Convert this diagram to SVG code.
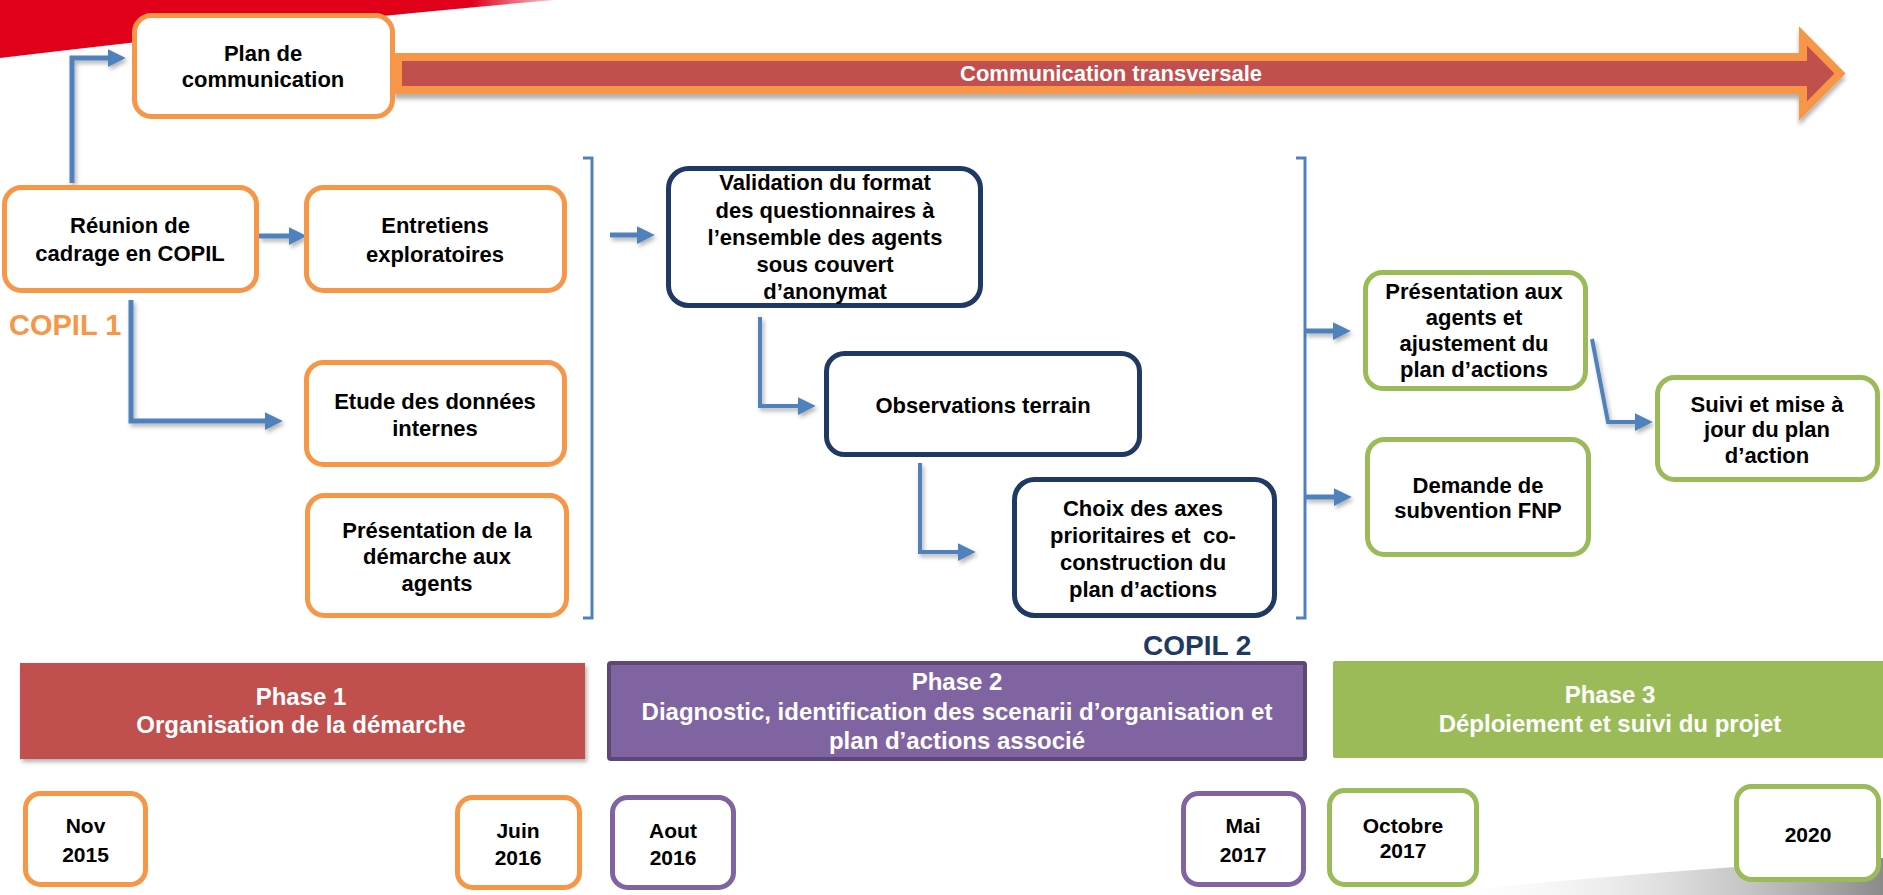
<svg xmlns="http://www.w3.org/2000/svg" width="1883" height="895" viewBox="0 0 1883 895">
<defs>
<style>
text{font-family:"Liberation Sans",Arial,sans-serif;font-weight:bold;}
.t{font-size:22px;fill:#000;text-anchor:middle;}
.d{font-size:21px;fill:#000;text-anchor:middle;}
.p{font-size:24px;fill:#fff;text-anchor:middle;}
.box{fill:#fff;stroke-width:5;}
.or{stroke:#F79646;}
.nv{stroke:#1F3864;}
.gr{stroke:#9BBB59;}
.pu{stroke:#8064A2;}
.con{fill:none;stroke:#4F81BD;stroke-width:5;marker-end:url(#ah);filter:url(#sh);}
.br{fill:none;stroke:#4F81BD;stroke-width:3;}
</style>
<marker id="ah" markerUnits="userSpaceOnUse" markerWidth="18" markerHeight="18" viewBox="0 0 16 16" refX="2" refY="8" orient="auto">
<path d="M0,0 L16,8 L0,16 Z" fill="#4F81BD"/>
</marker>
<filter id="sh" filterUnits="userSpaceOnUse" x="0" y="0" width="1883" height="895">
<feDropShadow dx="2" dy="3" stdDeviation="2" flood-color="#000" flood-opacity="0.3"/>
</filter>
<filter id="sh2" filterUnits="userSpaceOnUse" x="0" y="0" width="1883" height="895">
<feDropShadow dx="0" dy="5" stdDeviation="2" flood-color="#000" flood-opacity="0.3"/>
</filter>
<linearGradient id="gsw" x1="0" y1="0" x2="1" y2="0">
<stop offset="0" stop-color="#ffffff" stop-opacity="0"/>
<stop offset="1" stop-color="#8a8a8a"/>
</linearGradient>
<linearGradient id="rsw" x1="0" y1="0" x2="1" y2="0">
<stop offset="0" stop-color="#E1001A"/>
<stop offset="0.85" stop-color="#E1001A"/>
<stop offset="1" stop-color="#E1001A" stop-opacity="0.2"/>
</linearGradient>
</defs>
<rect width="1883" height="895" fill="#fff"/>
<g id="decor">
<path d="M0,0 H555 Q320,20 0,58 Z" fill="url(#rsw)"/>
<path d="M1420,895 Q1650,870 1883,858 V895 Z" fill="url(#gsw)"/>
</g>
<g id="band">
<path d="M398,57 H1803 V36 L1840,73.5 L1803,111 V90 H398 Z" fill="#C0504D" stroke="#F79646" stroke-width="8" filter="url(#sh2)"/>
<text x="1111" y="81" font-size="22" fill="#fff" text-anchor="middle">Communication transversale</text>
</g>
<g id="brackets">
<path class="br" d="M583,158 H592 V618 H583"/>
<path class="br" d="M1296,158 H1305 V618 H1296"/>
</g>
<g id="connectors">
<path class="con" d="M72,183 V58 H110"/>
<path class="con" d="M259,236 H291"/>
<path class="con" d="M131,300 V421 H267"/>
<path class="con" d="M610,235 H639"/>
<path class="con" style="stroke-width:4" d="M760,317 V406 H800"/>
<path class="con" style="stroke-width:4" d="M920,463 V552 H960"/>
<path class="con" d="M1305,331 H1335"/>
<path class="con" d="M1305,497 H1336"/>
<path class="con" style="stroke-width:4" d="M1592,339 L1608,422 H1637"/>
</g>
<g id="plan"><rect class="box or" x="134.5" y="15.5" width="258" height="101" rx="17"/>
<text class="t" x="263" y="61">Plan de</text><text class="t" x="263" y="87">communication</text></g>
<g id="reunion"><rect class="box or" x="4.5" y="187.5" width="252" height="103" rx="17"/>
<text class="t" x="130" y="233">Réunion de</text><text class="t" x="130" y="261">cadrage en COPIL</text></g>
<g id="entretiens"><rect class="box or" x="306.5" y="187.5" width="258" height="103" rx="17"/>
<text class="t" x="435" y="233">Entretiens</text><text class="t" x="435" y="262">exploratoires</text></g>
<g id="etude"><rect class="box or" x="306.5" y="362.5" width="258" height="102" rx="17"/>
<text class="t" x="435" y="409">Etude des données</text><text class="t" x="435" y="436">internes</text></g>
<g id="presentation-demarche"><rect class="box or" x="307.5" y="495.5" width="259" height="120" rx="17"/>
<text class="t" x="437" y="538">Présentation de la</text><text class="t" x="437" y="564">démarche aux</text><text class="t" x="437" y="591">agents</text></g>
<g id="copil1"><text x="9" y="335" font-size="29" fill="#F79646">COPIL 1</text></g>
<g id="validation"><rect class="box nv" x="668.5" y="168.5" width="312" height="137" rx="20"/>
<text class="t" x="825" y="190">Validation du format</text><text class="t" x="825" y="218">des questionnaires à</text><text class="t" x="825" y="245">l’ensemble des agents</text><text class="t" x="825" y="272">sous couvert</text><text class="t" x="825" y="299">d’anonymat</text></g>
<g id="observations"><rect class="box nv" x="826.5" y="353.5" width="313" height="101" rx="18"/>
<text class="t" x="983" y="413">Observations terrain</text></g>
<g id="choix"><rect class="box nv" x="1014.5" y="479.5" width="260" height="136" rx="20"/>
<text class="t" x="1143" y="516">Choix des axes</text><text class="t" x="1143" y="543" style="white-space:pre">prioritaires et  co-</text><text class="t" x="1143" y="570">construction du</text><text class="t" x="1143" y="597">plan d’actions</text></g>
<g id="copil2"><text x="1143" y="655" font-size="28" fill="#1F3864">COPIL 2</text></g>
<g id="presentation-agents"><rect class="box gr" x="1365.5" y="272.5" width="220" height="116" rx="17"/>
<text class="t" x="1474" y="299">Présentation aux</text><text class="t" x="1474" y="325">agents et</text><text class="t" x="1474" y="351">ajustement du</text><text class="t" x="1474" y="377">plan d’actions</text></g>
<g id="demande"><rect class="box gr" x="1367.5" y="439.5" width="221" height="115" rx="17"/>
<text class="t" x="1478" y="493">Demande de</text><text class="t" x="1478" y="518">subvention FNP</text></g>
<g id="suivi"><rect class="box gr" x="1657.5" y="377.5" width="220" height="102" rx="17"/>
<text class="t" x="1767" y="412">Suivi et mise à</text><text class="t" x="1767" y="437">jour du plan</text><text class="t" x="1767" y="463">d’action</text></g>
<g id="phase1"><rect x="20" y="663" width="565" height="96" fill="#C0504D" filter="url(#sh)"/>
<text class="p" x="301" y="705">Phase 1</text><text class="p" x="301" y="733">Organisation de la démarche</text></g>
<g id="phase2"><rect x="609" y="663" width="696" height="96" rx="2" fill="#8064A2" stroke="#5C4776" stroke-width="4"/>
<text class="p" x="957" y="690">Phase 2</text><text class="p" x="957" y="720">Diagnostic, identification des scenarii d’organisation et</text><text class="p" x="957" y="749">plan d’actions associé</text></g>
<g id="phase3"><rect x="1333" y="661" width="552" height="97" rx="2" fill="#9BBB59"/>
<text class="p" x="1610" y="703">Phase 3</text><text class="p" x="1610" y="732">Déploiement et suivi du projet</text></g>
<g id="d-nov"><rect class="box or" x="25.5" y="793.5" width="120" height="91" rx="15"/>
<text class="d" x="85.5" y="833">Nov</text><text class="d" x="85.5" y="862">2015</text></g>
<g id="d-juin"><rect class="box or" x="457.5" y="797.5" width="122" height="90" rx="15"/>
<text class="d" x="518" y="838">Juin</text><text class="d" x="518" y="865">2016</text></g>
<g id="d-aout"><rect class="box pu" x="612.5" y="797.5" width="121" height="90" rx="15"/>
<text class="d" x="673" y="838">Aout</text><text class="d" x="673" y="865">2016</text></g>
<g id="d-mai"><rect class="box pu" x="1183.5" y="793.5" width="120" height="91" rx="15"/>
<text class="d" x="1243" y="833">Mai</text><text class="d" x="1243" y="862">2017</text></g>
<g id="d-octobre"><rect class="box gr" x="1329.5" y="790.5" width="147" height="94" rx="15"/>
<text class="d" x="1403" y="833">Octobre</text><text class="d" x="1403" y="858">2017</text></g>
<g id="d-2020"><rect class="box gr" x="1736.5" y="786.5" width="142" height="93" rx="15"/>
<text class="d" x="1808" y="842">2020</text></g>
</svg>
